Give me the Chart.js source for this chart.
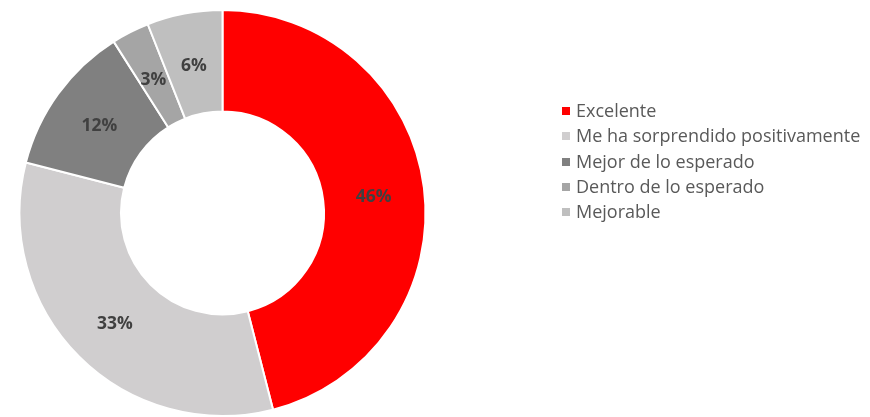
<!DOCTYPE html>
<html>
<head>
<meta charset="utf-8">
<script src="https://cdn.jsdelivr.net/npm/chart.js@4"></script>
<style>
  html, body { margin: 0; padding: 0; background: #fff; }
  #wrap { position: relative; width: 870px; height: 417px; }
  #legend { position: absolute; left: 562px; top: 98px; margin: 0; padding: 0; list-style: none;
    font-family: "Open Sans", "Liberation Sans", sans-serif; font-size: 18px; color: #595959; }
  #legend li { height: 25.3px; line-height: 25.3px; white-space: nowrap; }
  #legend span { display: inline-block; width: 8px; height: 8px; margin-right: 6px; vertical-align: 2px; }
</style>
</head>
<body>
<div id="wrap">
  <canvas id="chart" width="870" height="417"></canvas>
  <ul id="legend"></ul>
</div>
<script>
const labels = ["Excelente", "Me ha sorprendido positivamente", "Mejor de lo esperado", "Dentro de lo esperado", "Mejorable"];
const values = [46, 33, 12, 3, 6];
const colors = ["#FF0000", "#D0CECF", "#808080", "#A5A5A5", "#BFBFBF"];

// percentage labels in the middle of each ring slice
const sliceLabels = {
  id: "sliceLabels",
  afterDatasetsDraw(chart) {
    const ctx = chart.ctx;
    const meta = chart.getDatasetMeta(0);
    ctx.save();
    ctx.font = "bold 17.5px 'Open Sans', 'Liberation Sans', sans-serif";
    ctx.fillStyle = "#404040";
    ctx.textAlign = "center";
    ctx.textBaseline = "middle";
    meta.data.forEach((arc, i) => {
      const p = arc.tooltipPosition();
      ctx.fillText(values[i] + "%", p.x, p.y + 3);
    });
    ctx.restore();
  }
};

new Chart(document.getElementById("chart"), {
  type: "doughnut",
  data: {
    labels: labels,
    datasets: [{
      data: values,
      backgroundColor: colors,
      borderColor: "#FFFFFF",
      borderWidth: 2,
    }],
  },
  options: {
    responsive: false,
    animation: false,
    cutout: "50%",
    layout: { padding: { left: 17, right: 442, top: 9, bottom: -2 } },
    plugins: {
      legend: { display: false },
      tooltip: { enabled: false },
    },
  },
  plugins: [sliceLabels],
});

const legend = document.getElementById("legend");
labels.forEach((name, i) => {
  const li = document.createElement("li");
  const sw = document.createElement("span");
  sw.style.background = colors[i];
  li.appendChild(sw);
  li.appendChild(document.createTextNode(name));
  legend.appendChild(li);
});
</script>
</body>
</html>
